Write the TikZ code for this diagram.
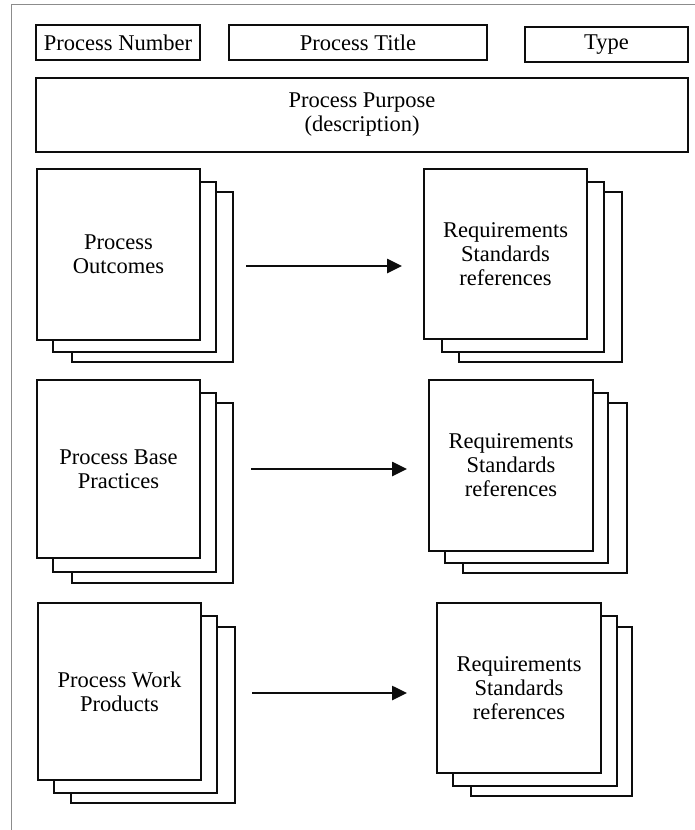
\documentclass[tikz,border=0pt]{standalone}
\usepackage{fontspec}
\setmainfont{Liberation Serif}
\usetikzlibrary{arrows.meta,calc}
\begin{document}
\begin{tikzpicture}[x=1pt,y=-1pt,
  txt/.style={font=\fontsize{22.5}{24}\selectfont, align=center, text=black},
  box/.style={draw=black!95, line width=2.2pt, fill=white, inner sep=0pt, outer sep=0pt, txt},
  arr/.style={line width=2.6pt, draw=black!95, -{Triangle[length=15pt,width=14pt]}},
  frame/.style={draw=black!45, line width=0.9pt}]
\useasboundingbox (0,0) rectangle (695,830);
% outer frame (left and top edges visible)
\draw[frame] (11,830) -- (11,4) -- (695,4);
% top row
\node[box, minimum width=164, minimum height=35] (num) at (118,42.5) {Process Number};
\node[box, minimum width=258, minimum height=35] (title) at (358,42.5) {Process Title};
\node[box, minimum width=163, minimum height=35] (type) at (606.5,44.5) {Type};
\node[box, minimum width=652, minimum height=74] (purpose) at (362,115) {Process Purpose\\(description)};
% row 1 left
\node[box, minimum width=161, minimum height=170] (o3) at (152.5,277) {};
\node[box, minimum width=163, minimum height=170] (o2) at (134.5,267) {};
\node[box, minimum width=163, minimum height=171] (o1) at (118.5,254.5) {Process\\Outcomes};
% row 1 right
\node[box, minimum width=163, minimum height=170] (r3) at (540.5,277) {};
\node[box, minimum width=162, minimum height=170] (r2) at (523,267) {};
\node[box, minimum width=163, minimum height=170] (r1) at (505.5,254) {Requirements\\Standards\\references};
% row 2 left
\node[box, minimum width=161, minimum height=180] (b3) at (152.5,493) {};
\node[box, minimum width=163, minimum height=179] (b2) at (134.5,482.5) {};
\node[box, minimum width=163, minimum height=178] (b1) at (118.5,469) {Process Base\\Practices};
% row 2 right
\node[box, minimum width=164, minimum height=170] (s3) at (545,488) {};
\node[box, minimum width=163, minimum height=170] (s2) at (526.5,478) {};
\node[box, minimum width=164, minimum height=171] (s1) at (511,465.5) {Requirements\\Standards\\references};
% row 3 left
\node[box, minimum width=164, minimum height=176] (w3) at (153,715) {};
\node[box, minimum width=163, minimum height=177] (w2) at (135.5,704.5) {};
\node[box, minimum width=163, minimum height=177] (w1) at (119.5,691.5) {Process Work\\Products};
% row 3 right
\node[box, minimum width=161, minimum height=169] (t3) at (551.5,711.5) {};
\node[box, minimum width=164, minimum height=170] (t2) at (535,701) {};
\node[box, minimum width=164, minimum height=170] (t1) at (519,688) {Requirements\\Standards\\references};
% arrows
\coordinate (a1) at (0,266);
\coordinate (a2) at (0,469);
\coordinate (a3) at (0,693);
\draw[arr, shorten <=13pt, shorten >=22pt] (o3.east |- a1) -- (r1.west |- a1);
\draw[arr, shorten <=18pt, shorten >=22pt] (b3.east |- a2) -- (s1.west |- a2);
\draw[arr, shorten <=17pt, shorten >=30pt] (w3.east |- a3) -- (t1.west |- a3);
\end{tikzpicture}
\end{document}
